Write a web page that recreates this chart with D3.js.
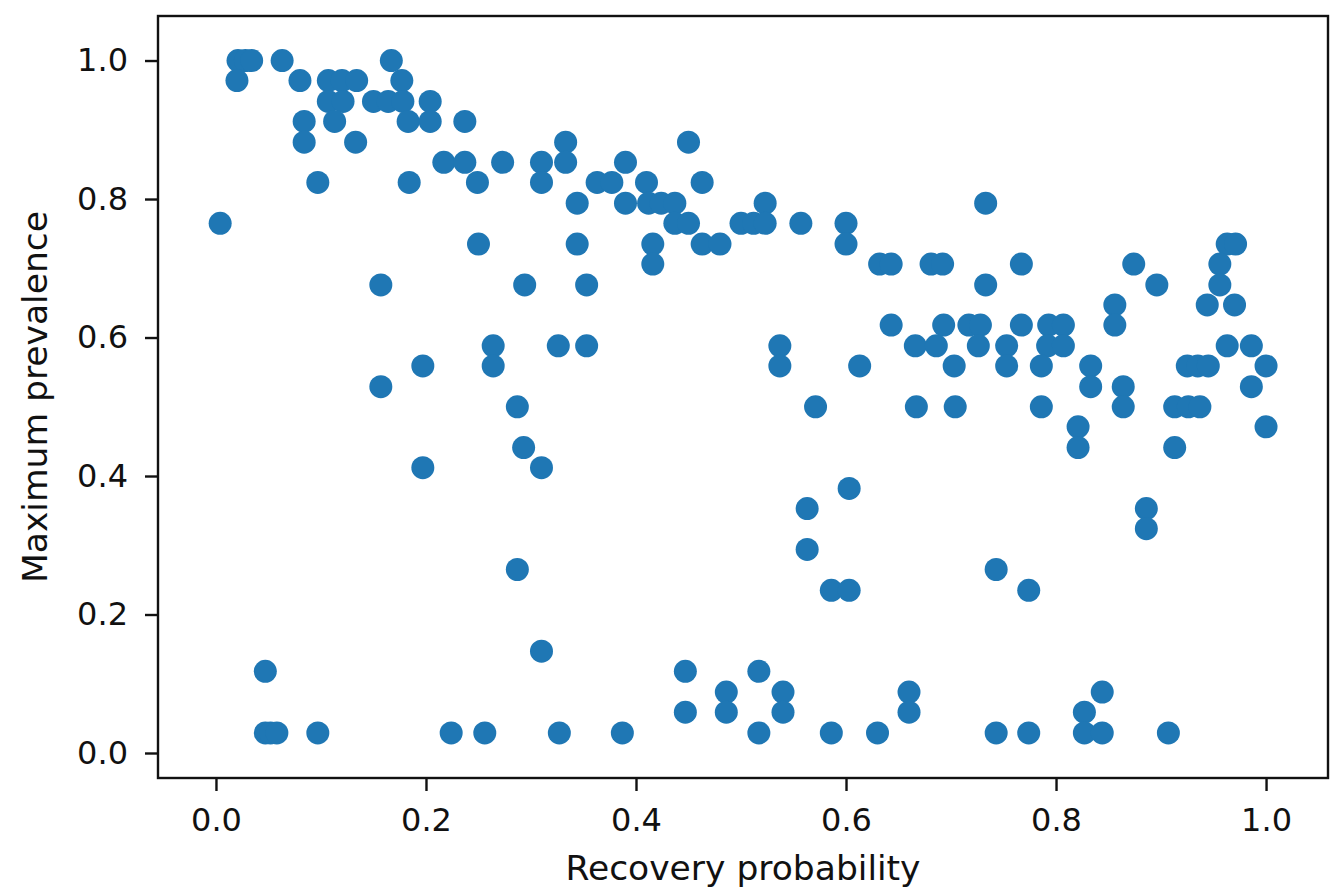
<!DOCTYPE html>
<html lang="en">
<head>
    <meta charset="UTF-8">
    <script src="https://d3js.org/d3.v7.min.js"></script>
    <title>Recovery probability vs maximum prevalence</title>
    <style>
        body { margin: 0; background: white; }
        text { font-family: 'DejaVu Sans', sans-serif; fill: #111; }
        .tick text { font-size: 32px; }
        .tick line { stroke: #111; stroke-width: 2.4; }
        text.label { font-size: 34.5px; text-anchor: middle; }
    </style>
</head>
<body>
<svg height="892" width="1331"></svg>
<script>
    // values
    const recovery = [
        0.021, 0.028, 0.034, 0.063, 0.167,
        0.020, 0.080, 0.107, 0.120, 0.134, 0.177,
        0.107, 0.121, 0.150, 0.164, 0.178, 0.204,
        0.084, 0.113, 0.183, 0.204, 0.237,
        0.084, 0.133, 0.333, 0.450,
        0.217, 0.237, 0.273, 0.310, 0.333, 0.390,
        0.097, 0.184, 0.249, 0.310, 0.363, 0.377, 0.410, 0.463,
        0.344, 0.390, 0.412, 0.424, 0.437, 0.523, 0.733,
        0.004, 0.437, 0.450, 0.500, 0.512, 0.523, 0.557, 0.600,
        0.250, 0.344, 0.416, 0.463, 0.480, 0.600, 0.963, 0.971,
        0.416, 0.632, 0.643, 0.681, 0.692, 0.767, 0.874, 0.956,
        0.157, 0.294, 0.353, 0.733, 0.896, 0.956,
        0.856, 0.944, 0.970,
        0.643, 0.693, 0.717, 0.728, 0.767, 0.793, 0.807, 0.856,
        0.264, 0.326, 0.353, 0.537, 0.666, 0.686, 0.726, 0.753, 0.792, 0.807, 0.963, 0.986,
        0.197, 0.264, 0.537, 0.613, 0.703, 0.753, 0.786, 0.833, 0.925, 0.935, 0.945, 1.000,
        0.157, 0.833, 0.864, 0.986,
        0.287, 0.571, 0.667, 0.704, 0.786, 0.864, 0.913, 0.926, 0.937,
        0.821, 1.000,
        0.293, 0.821, 0.913,
        0.197, 0.310,
        0.603,
        0.563, 0.886,
        0.886,
        0.563,
        0.287, 0.743,
        0.586, 0.603, 0.774,
        0.310,
        0.047, 0.447, 0.517,
        0.486, 0.540, 0.660, 0.844,
        0.447, 0.486, 0.540, 0.660, 0.827,
        0.047, 0.052, 0.058, 0.097, 0.224, 0.256, 0.327, 0.387, 0.517, 0.586, 0.630, 0.743, 0.774, 0.827, 0.844, 0.907
    ];
    const prevalence = [
        1.000, 1.000, 1.000, 1.000, 1.000,
        0.971, 0.971, 0.971, 0.971, 0.971, 0.971,
        0.941, 0.941, 0.941, 0.941, 0.941, 0.941,
        0.912, 0.912, 0.912, 0.912, 0.912,
        0.882, 0.882, 0.882, 0.882,
        0.853, 0.853, 0.853, 0.853, 0.853, 0.853,
        0.824, 0.824, 0.824, 0.824, 0.824, 0.824, 0.824, 0.824,
        0.794, 0.794, 0.794, 0.794, 0.794, 0.794, 0.794,
        0.765, 0.765, 0.765, 0.765, 0.765, 0.765, 0.765, 0.765,
        0.735, 0.735, 0.735, 0.735, 0.735, 0.735, 0.735, 0.735,
        0.706, 0.706, 0.706, 0.706, 0.706, 0.706, 0.706, 0.706,
        0.676, 0.676, 0.676, 0.676, 0.676, 0.676,
        0.647, 0.647, 0.647,
        0.618, 0.618, 0.618, 0.618, 0.618, 0.618, 0.618, 0.618,
        0.588, 0.588, 0.588, 0.588, 0.588, 0.588, 0.588, 0.588, 0.588, 0.588, 0.588, 0.588,
        0.559, 0.559, 0.559, 0.559, 0.559, 0.559, 0.559, 0.559, 0.559, 0.559, 0.559, 0.559,
        0.529, 0.529, 0.529, 0.529,
        0.500, 0.500, 0.500, 0.500, 0.500, 0.500, 0.500, 0.500, 0.500,
        0.471, 0.471,
        0.441, 0.441, 0.441,
        0.412, 0.412,
        0.382,
        0.353, 0.353,
        0.324,
        0.294,
        0.265, 0.265,
        0.235, 0.235, 0.235,
        0.147,
        0.118, 0.118, 0.118,
        0.088, 0.088, 0.088, 0.088,
        0.059, 0.059, 0.059, 0.059, 0.059,
        0.029, 0.029, 0.029, 0.029, 0.029, 0.029, 0.029, 0.029, 0.029, 0.029, 0.029, 0.029, 0.029, 0.029, 0.029, 0.029
    ];
    const xTicks = [0, 0.2, 0.4, 0.6, 0.8, 1.0];
    const yTicks = [0, 0.2, 0.4, 0.6, 0.8, 1.0];

    const plotLeft = 158, plotRight = 1328, plotTop = 16, plotBottom = 778;
    const svg = d3.select("svg");

    const x = d3.scaleLinear().domain([-0.0552, 1.059]).range([plotLeft, plotRight]);
    const y = d3.scaleLinear().domain([-0.0361, 1.0643]).range([plotBottom, plotTop]);

    const points = recovery.map((r, i) => ({r: r, p: prevalence[i]}));

    svg.append("g").selectAll("circle").data(points).enter().append("circle")
        .attr("cx", d => x(d.r)).attr("cy", d => y(d.p))
        .attr("r", 11.5)
        .style("fill", "#1f77b4");

    const xAxis = d3.axisBottom(x).tickValues(xTicks)
        .tickFormat(d3.format(".1f")).tickSize(13).tickPadding(17);
    const yAxis = d3.axisLeft(y).tickValues(yTicks)
        .tickFormat(d3.format(".1f")).tickSize(13).tickPadding(17);

    svg.append("g").attr("transform", `translate(0,${plotBottom})`).call(xAxis)
        .call(g => g.select(".domain").remove());
    svg.append("g").attr("transform", `translate(${plotLeft},0)`).call(yAxis)
        .call(g => g.select(".domain").remove());

    svg.selectAll(".tick text").style("font-family", "'DejaVu Sans', sans-serif");

    // frame
    svg.append("rect")
        .attr("x", plotLeft).attr("y", plotTop)
        .attr("width", plotRight - plotLeft).attr("height", plotBottom - plotTop)
        .style("fill", "none").style("stroke", "#111").style("stroke-width", 2.4);

    svg.append("text").attr("class", "label")
        .attr("x", (plotLeft + plotRight) / 2).attr("y", 880)
        .text("Recovery probability");

    svg.append("text").attr("class", "label")
        .attr("transform", `translate(47,${(plotTop + plotBottom) / 2}) rotate(-90)`)
        .text("Maximum prevalence");
</script>
</body>
</html>
